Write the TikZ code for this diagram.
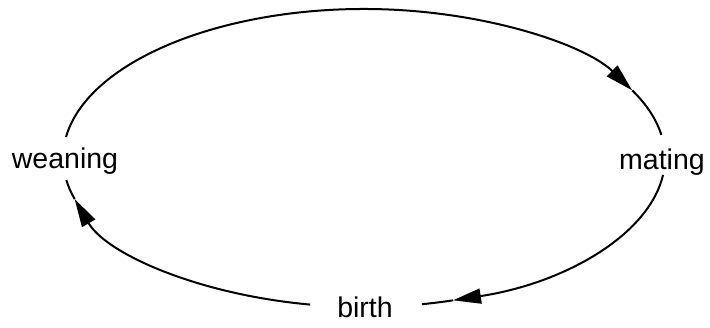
\documentclass[tikz,border=0pt]{standalone}
\usepackage{fontspec}
\setmainfont{Liberation Sans}
\usetikzlibrary{arrows.meta,calc}
\begin{document}
\begin{tikzpicture}[x=1pt,y=1pt,
  cyc/.style={line width=2pt, draw=black},
  tipped/.style={-{Triangle[length=28pt,width=15pt]}},
  lbl/.style={font=\fontsize{28.5}{32}\selectfont, anchor=base, inner sep=0pt}]
\useasboundingbox (0,0) rectangle (710,327);
\coordinate (C) at (364,169);
\node[lbl] (weaning) at (65,158) {weaning};
\node[lbl] (mating) at (662,157) {mating};
\node[lbl] (birth) at (365,10) {birth};
% gap ends
\coordinate (wTop) at ($(C)+(171.9:301 and 149)$);
\coordinate (mTop) at ($(C)+(8.9:301 and 149)$);
\coordinate (mBot) at ($(C)+(-6.5:301 and 149)$);
\coordinate (bRight) at ($(C)+(-78.9:301 and 149)$);
\coordinate (bLeft) at ($(C)+(259.7:301 and 149)$);
\coordinate (wBot) at ($(C)+(188.5:301 and 149)$);
\coordinate (tip1) at ($(C)+(27:301 and 149)$);
\coordinate (tip2) at ($(C)+(-72.8:301 and 149)$);
\coordinate (tip3) at ($(C)+(196:301 and 149)$);
% weaning -> mating
\draw[cyc,tipped] (wTop) arc[start angle=171.9, end angle=27, x radius=301pt, y radius=149pt];
\draw[cyc] (tip1) arc[start angle=27, end angle=8.9, x radius=301pt, y radius=149pt];
% mating -> birth
\draw[cyc,tipped] (mBot) arc[start angle=-6.5, end angle=-72.8, x radius=301pt, y radius=149pt];
\draw[cyc] (tip2) arc[start angle=-72.8, end angle=-78.9, x radius=301pt, y radius=149pt];
% birth -> weaning
\draw[cyc,tipped] (bLeft) arc[start angle=259.7, end angle=196, x radius=301pt, y radius=149pt];
\draw[cyc] (tip3) arc[start angle=196, end angle=188.5, x radius=301pt, y radius=149pt];
\end{tikzpicture}
\end{document}
